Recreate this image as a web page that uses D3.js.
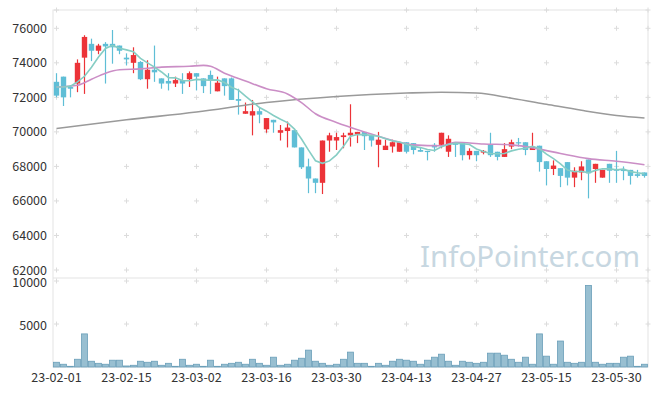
<!DOCTYPE html>
<html>
<head>
<meta charset="utf-8">
<script src="https://cdnjs.cloudflare.com/ajax/libs/d3/7.8.5/d3.min.js"></script>
<style>
  body { margin: 0; background: #fff; }
  svg { display: block; font-family: 'Noto Sans CJK KR', 'Noto Sans', sans-serif; }
</style>
</head>
<body>
<script>
// trading days
let dates = [
  '23-02-01','23-02-02','23-02-03','23-02-06','23-02-07','23-02-08','23-02-09','23-02-10','23-02-13','23-02-14',
  '23-02-15','23-02-16','23-02-17','23-02-20','23-02-21','23-02-22','23-02-23','23-02-24','23-02-27','23-02-28',
  '23-03-02','23-03-03','23-03-06','23-03-07','23-03-08','23-03-09','23-03-10','23-03-13','23-03-14','23-03-15',
  '23-03-16','23-03-17','23-03-20','23-03-21','23-03-22','23-03-23','23-03-24','23-03-27','23-03-28','23-03-29',
  '23-03-30','23-03-31','23-04-03','23-04-04','23-04-05','23-04-06','23-04-07','23-04-10','23-04-11','23-04-12',
  '23-04-13','23-04-14','23-04-17','23-04-18','23-04-19','23-04-20','23-04-21','23-04-24','23-04-25','23-04-26',
  '23-04-27','23-04-28','23-05-02','23-05-03','23-05-04','23-05-08','23-05-09','23-05-10','23-05-11','23-05-12',
  '23-05-15','23-05-16','23-05-17','23-05-18','23-05-19','23-05-22','23-05-23','23-05-24','23-05-25','23-05-26',
  '23-05-30','23-05-31','23-06-01','23-06-02','23-06-05'
]

let open = [72900,73200,72600,72800,74300,75100,74700,75100,75100,75000,
  74300,74000,74050,73050,73600,73100,72950,72800,73000,73050,
  73400,73100,73300,72350,73100,73100,71900,71050,70950,71200,
  70150,70700,69950,70050,70100,69100,68000,67300,67050,69500,
  69500,69700,69800,69850,70000,69800,69250,68950,69150,68850,
  69400,69350,68950,68900,69250,69250,68850,69400,69350,68650,
  68900,68800,69300,68850,68550,69150,69400,69400,68950,69200,
  68300,67850,67900,68250,67350,67650,68400,67850,67350,68150,
  67850,67800,67800,67550,67650]
let high = [73400,73200,72700,74200,75600,75400,75100,75200,75900,75000,
  74550,74900,74100,74150,75000,73100,73400,73200,73400,73500,
  73400,73100,73550,73200,73100,73150,72500,71700,71850,71450,
  70800,70700,70400,70600,70100,69100,68450,67300,69500,69950,
  69950,69950,71600,70000,70000,69800,70000,69550,69550,69400,
  69400,69350,69100,68900,69350,69950,69800,69400,69350,69050,
  68900,68950,69950,68850,69350,69550,69650,69400,69950,69200,
  68300,68350,67900,68250,67950,68300,68400,68150,67800,68150,
  68900,68000,67800,67800,67650]
let low = [72000,71500,72000,72300,72200,74100,74500,72800,73950,74500,
  73850,73400,73000,72500,72900,72500,72400,72600,72200,72600,
  72400,72250,72200,72350,72100,71850,71000,71050,69800,70500,
  69950,69950,69500,69100,69100,67850,66450,66450,66400,68850,
  68950,69050,69150,69350,68950,69150,67950,68950,68800,68850,
  68750,68700,68850,68350,68850,69050,68550,68550,68350,68400,
  68300,68700,68550,68350,68550,69000,69150,68650,68950,67700,
  66900,67500,66800,66900,66800,67200,66150,67050,67350,67050,
  67050,67200,66950,67350,67350]
let close = [72100,72000,72500,74000,75500,74700,75000,74950,74900,74700,
  74200,74450,73050,73600,73450,72800,72800,73000,72800,73400,
  73200,72650,72950,72850,72650,71850,71800,71200,71200,71000,
  70800,70550,70100,70250,69100,67950,67300,67050,69500,69800,
  69700,69800,69950,70000,69750,69500,69550,69200,69400,69400,
  68850,68950,68850,68850,69100,69950,69600,69250,68650,68900,
  68650,68900,68650,68550,69000,69400,69350,68950,69150,68250,
  67850,68050,67450,67350,67750,68000,67600,68150,67800,67750,
  67750,67750,67450,67450,67450]
let volume = [550,320,80,900,3850,670,430,320,790,790,
  120,200,670,550,670,200,430,80,900,200,
  320,80,790,80,320,430,550,320,900,430,
  200,1140,200,320,790,1020,1960,670,430,200,
  320,900,1730,430,430,80,430,200,670,900,
  790,670,320,790,1140,1490,670,200,670,550,
  430,550,1610,1610,1370,900,550,1140,320,3850,
  1260,320,3020,550,430,550,9490,550,320,430,
  430,1140,1260,80,320]

// closes before the first day, for the 5 day average
let prevCloses = [72000, 72250, 72750, 73900]

// 20 day average (bar index, value)
let ma20Idx = [0,3,5,7,9,12,15,19,21,22,24,27,30,33,35,37,40,44,48,51,55,57,61,65,69,72,76,80,84]
let ma20Val = [72600,72700,73050,73400,73600,73650,73750,73800,73850,73800,73400,72950,72500,72200,71700,71050,70550,70000,69500,69250,69200,69400,69300,69250,69000,68750,68450,68300,68100]

// long average
let maLongIdx = [0,10,20,30,40,50,55,60,65,70,75,80,84]
let maLongVal = [70200,70700,71150,71700,72050,72250,72300,72250,71950,71600,71250,70950,70800]

let priceTicks = [62000,64000,66000,68000,70000,72000,74000,76000]
let volumeTicks = [5000,10000]
let labelIdx = [0,10,20,30,40,50,60,70,80]

let width = 657
let height = 396
let plotLeft = 53
let plotRight = 648
let plotTop = 10
let split = 278
let plotBottom = 367

let svg = d3.select('body').append('svg')
  .attr('width', width)
  .attr('height', height)

let xScale = d3.scaleBand().domain(dates).range([plotLeft, plotRight])
let bw = xScale.bandwidth()
let cx = i => xScale(dates[i]) + bw / 2

let yPrice = d3.scaleLinear().domain([61537, 77060]).range([split, plotTop])
let yVol = d3.scaleLinear().domain([0, 10350]).range([plotBottom, split])

// frame
let frame = svg.append('g').attr('stroke', '#e3e3e3').attr('fill', 'none')
frame.append('rect').attr('x', plotLeft).attr('y', plotTop).attr('width', plotRight - plotLeft).attr('height', plotBottom - plotTop)
frame.append('line').attr('x1', plotLeft).attr('x2', plotRight).attr('y1', split).attr('y2', split)

// little crosses instead of grid lines
let colXs = labelIdx.map(cx).concat([plotRight])
let rowYs = [plotTop].concat(priceTicks.map(yPrice), volumeTicks.map(yVol))
let grid = svg.append('g').attr('stroke', '#dcdcdc').attr('stroke-width', 1)
colXs.forEach(gx => {
  rowYs.forEach(gy => {
    grid.append('line').attr('x1', gx - 2.5).attr('x2', gx + 2.5).attr('y1', gy).attr('y2', gy)
    grid.append('line').attr('x1', gx).attr('x2', gx).attr('y1', gy - 2.5).attr('y2', gy + 2.5)
  })
})

// watermark
svg.append('text')
  .attr('x', 420)
  .attr('y', 267)
  .attr('textLength', 220)
  .attr('lengthAdjust', 'spacingAndGlyphs')
  .style('font-family', "'Noto Sans', sans-serif")
  .style('font-size', '29px')
  .attr('fill', '#c7d7e1')
  .text('InfoPointer.com')

// volume bars
svg.append('g').selectAll('rect')
  .data(volume)
  .enter()
  .append('rect')
  .attr('x', (d, i) => xScale(dates[i]) + 0.5)
  .attr('y', d => yVol(d))
  .attr('width', bw - 1)
  .attr('height', d => plotBottom - yVol(d))
  .attr('fill', '#98bfd1')
  .attr('stroke', '#6a9fb9')
  .attr('stroke-width', 0.8)

// candles
let up = '#ec3338'
let down = '#5fbed6'
let candles = svg.append('g').selectAll('g')
  .data(dates.map((d, i) => ({ i, o: open[i], h: high[i], l: low[i], c: close[i] })))
  .enter()
  .append('g')

candles.append('line')
  .attr('x1', d => cx(d.i))
  .attr('x2', d => cx(d.i))
  .attr('y1', d => yPrice(d.h))
  .attr('y2', d => yPrice(d.l))
  .attr('stroke', d => d.c >= d.o ? up : down)
  .attr('stroke-width', 1.2)

candles.append('rect')
  .attr('x', d => cx(d.i) - 2.7)
  .attr('width', 5.4)
  .attr('y', d => yPrice(Math.max(d.o, d.c)))
  .attr('height', d => Math.max(1.2, Math.abs(yPrice(d.o) - yPrice(d.c))))
  .attr('fill', d => d.c >= d.o ? up : down)

// moving averages
let allCloses = prevCloses.concat(close)
let ma5 = close.map((c, i) => d3.mean(allCloses.slice(i, i + 5)))

let lineGen = d3.line()
  .x(d => cx(d[0]))
  .y(d => yPrice(d[1]))

svg.append('path')
  .datum(maLongIdx.map((d, k) => [d, maLongVal[k]]))
  .attr('d', lineGen.curve(d3.curveMonotoneX))
  .attr('fill', 'none')
  .attr('stroke', '#9a9a9a')
  .attr('stroke-width', 1.6)

svg.append('path')
  .datum(ma20Idx.map((d, k) => [d, ma20Val[k]]))
  .attr('d', lineGen.curve(d3.curveMonotoneX))
  .attr('fill', 'none')
  .attr('stroke', '#cb8ec6')
  .attr('stroke-width', 1.6)

svg.append('path')
  .datum(ma5.map((d, i) => [i, d]))
  .attr('d', lineGen.curve(d3.curveLinear))
  .attr('fill', 'none')
  .attr('stroke', '#86cdc4')
  .attr('stroke-width', 1.6)

// axes
let priceAxis = d3.axisLeft(yPrice).tickValues(priceTicks).tickFormat(d3.format('d')).tickSize(0).tickPadding(6)
let volAxis = d3.axisLeft(yVol).tickValues(volumeTicks).tickFormat(d3.format('d')).tickSize(0).tickPadding(6)
let xAxis = d3.axisBottom(xScale).tickValues(labelIdx.map(i => dates[i])).tickSize(0).tickPadding(6)

let styleAxis = g => {
  g.select('.domain').remove()
  g.selectAll('text')
    .style('font-size', '12.5px')
    .style('font-family', "'Noto Sans CJK KR', sans-serif")
    .attr('fill', '#333')
}

svg.append('g').attr('transform', 'translate(' + plotLeft + ',0)').call(priceAxis).call(styleAxis)
svg.append('g').attr('transform', 'translate(' + plotLeft + ',1.5)').call(volAxis).call(styleAxis)
svg.append('g').attr('transform', 'translate(0,' + plotBottom + ')').call(xAxis).call(styleAxis)
</script>
</body>
</html>
